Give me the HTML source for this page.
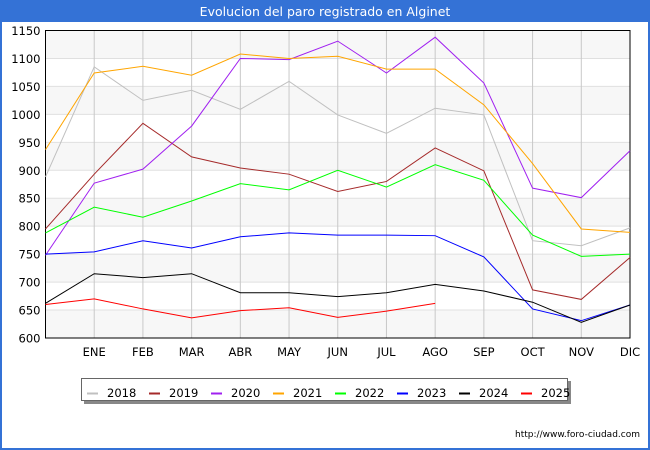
<!DOCTYPE html>
<html><head><meta charset="utf-8"><style>
body{margin:0;width:650px;height:450px;overflow:hidden;font-family:"DejaVu Sans","Liberation Sans",sans-serif;}
#wrap{position:absolute;left:0;top:0;width:646px;height:448px;border:2px solid #3472d6;border-top:none;background:#fff;}
</style></head><body>
<div id="wrap"></div>
<svg id="c" width="650" height="450" style="position:absolute;left:0;top:0">
<rect x="0" y="0" width="650" height="22" fill="#3472d6"/>
<text x="325" y="16" fill="#fff" font-size="12.5" text-anchor="middle" font-family="DejaVu Sans, sans-serif">Evolucion del paro registrado en Alginet</text>
<g id="plot"></g>
<text x="640" y="437" font-size="9" text-anchor="end" font-family="DejaVu Sans, sans-serif">http://www.foro-ciudad.com</text>
</svg>
<script>
const months=["","ENE","FEB","MAR","ABR","MAY","JUN","JUL","AGO","SEP","OCT","NOV","DIC"];
const yTicks=[600,650,700,750,800,850,900,950,1000,1050,1100,1150];
const years=["2018","2019","2020","2021","2022","2023","2024","2025"];
const colors=["#c0c0c0","#a52a2a","#a020f0","#ffa500","#00ff00","#0000ff","#000000","#ff0000"];
const s2018=[888,1085,1025,1043,1009,1059,999,966,1011,999,774,765,797];
const s2019=[795,893,984,924,904,893,862,880,940,899,686,669,744];
const s2020=[748,877,902,979,1100,1098,1131,1074,1138,1056,868,851,935];
const s2021=[937,1074,1086,1070,1108,1100,1104,1081,1081,1017,912,795,789];
const s2022=[788,834,816,845,876,865,900,870,910,882,784,746,750];
const s2023=[750,754,774,761,781,788,784,784,783,745,652,631,659];
const s2024=[662,715,708,715,681,681,674,681,696,684,664,628,659];
const s2025=[660,670,652,636,649,654,637,648,662];
const series=[s2018,s2019,s2020,s2021,s2022,s2023,s2024,s2025];
const L=45.5,R=630,T=30.5,B=338;
const xS=i=>L+i*(R-L)/12;
const yS=v=>B-(v-600)*(B-T)/550;
const NS="http://www.w3.org/2000/svg";
const g=document.getElementById('plot');
function mk(t,a,p){const e=document.createElementNS(NS,t);for(const k in a)e.setAttribute(k,a[k]);(p||g).appendChild(e);return e;}
for(let i=0;i<yTicks.length-1;i++){
 if(i%2==0){const r=mk('rect',{x:L,y:yS(yTicks[i+1]),width:R-L,height:yS(yTicks[i])-yS(yTicks[i+1]),fill:'#f7f7f7'});
 
 }
}
yTicks.forEach(v=>{
 const l=mk('line',{x1:L,x2:R,y1:yS(v),y2:yS(v),stroke:'#e0e0e0','stroke-width':1});
 
 
 const t=mk('text',{x:L-5,y:yS(v)+4.5,'font-size':11.5,'text-anchor':'end'});t.textContent=v;
 
 
});
months.forEach((m,i)=>{
 if(i>0){const l=mk('line',{x1:xS(i),x2:xS(i),y1:T,y2:B,stroke:'#c8c8c8','stroke-width':1});
 
 }
 const t=mk('text',{x:xS(i),y:B+18,'font-size':11.5,'text-anchor':'middle'});t.textContent=m;
 
 
});
const fr=mk('rect',{x:L,y:T,width:R-L,height:B-T,fill:'none',stroke:'#000','stroke-width':1});


series.forEach((s,k)=>{
 const p=mk('polyline',{points:s.map((v,i)=>xS(i)+','+yS(v)).join(' '),fill:'none',stroke:colors[k],'stroke-width':1});
 
 
});
const lg=mk('g',{});


mk('rect',{x:84,y:381,width:487,height:23,fill:'#888'},lg);
mk('rect',{x:81.5,y:378.5,width:486,height:22,fill:'#fff',stroke:'#666'},lg);
years.forEach((y,k)=>{
 const x=87+k*62;
 const e=mk('g',{},lg);
 
 
 mk('line',{x1:x,x2:x+11,y1:393.5,y2:393.5,stroke:colors[k],'stroke-width':2},e);
 const t=mk('text',{x:x+20,y:397,'font-size':11.5},e);t.textContent=y;
});
</script>
</body></html>
